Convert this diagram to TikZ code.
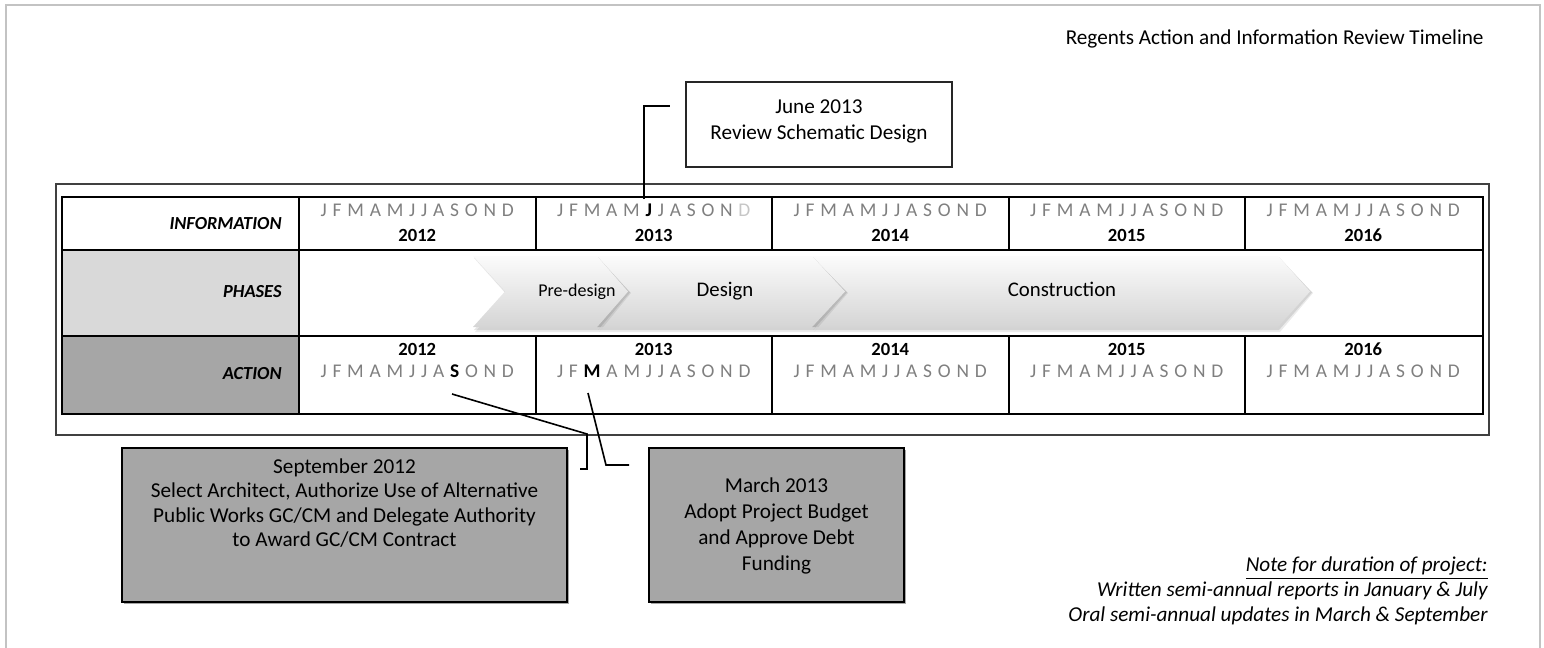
\documentclass[tikz,border=0pt]{standalone}
\usepackage{fontspec}
\setmainfont{Carlito}
\usetikzlibrary{shadows}
\definecolor{mgray}{HTML}{7F7F7F}
\definecolor{lgray}{HTML}{D9D9D9}
\definecolor{dgray}{HTML}{A6A6A6}
\definecolor{fgray}{HTML}{C3C3C3}
\definecolor{ogray}{HTML}{404040}
\newcommand\mon[1]{{\spaceskip=2.9pt\relax#1}}
\newcommand\hb[1]{\textcolor{black}{\bfseries #1}}
\newcommand\chevron[4]{%
  \fill[black,opacity=.08] (#1+1,258) -- (#3+1,258) -- (#4+3,293) -- (#3+2,332) -- (#1+2,332) -- (#2+2,295) -- cycle;
  \fill[black,opacity=.10] (#1+1,257) -- (#3+1,257) -- (#4+2,292.5) -- (#3+1,330) -- (#1+1,330) -- (#2+1,293) -- cycle;
  \shade[top color=gray!3, bottom color=gray!33] (#1,256) -- (#3,256) -- (#4,291.5) -- (#3,327) -- (#1,327) -- (#2,291.5) -- cycle;}
\begin{document}
\begin{tikzpicture}[x=0.5pt,y=-0.5pt,
  txt/.style={inner sep=0pt, font=\fontsize{10.6}{13}\selectfont},
  notetxt/.style={inner sep=0pt, anchor=mid east, font=\fontsize{10.6}{13}\selectfont\itshape},
  lab/.style={inner sep=0pt, anchor=mid east, font=\fontsize{9.2}{11}\selectfont\bfseries\itshape},
  yr/.style={inner sep=0pt, anchor=mid, font=\fontsize{9.3}{11}\selectfont\bfseries},
  mo/.style={inner sep=0pt, anchor=mid, text=mgray, font=\fontsize{9.7}{11}\selectfont},
  grid/.style={line width=1pt, black},
  conn/.style={line width=0.8pt, black},
  gbox/.style={draw=black, line width=1pt, fill=dgray, drop shadow={shadow xshift=0.8pt, shadow yshift=-0.8pt, opacity=.35, fill=black}},
  wbox/.style={draw=black!85, line width=0.9pt, fill=white},
  ph/.style={inner sep=0pt, anchor=mid, font=\fontsize{10.4}{12}\selectfont}]
\useasboundingbox (0,0) rectangle (1544,648);
% page frame
\draw[fgray, line width=1.2pt] (6,660) -- (6,5) -- (1540,5) -- (1540,660);
% title
\node[txt, anchor=mid east] (title) at (1484,40) {Regents Action and Information Review Timeline};
% June box
\node[wbox, minimum width=133pt, minimum height=42.5pt] (junebox) at (819,124.5) {};
\node[txt, align=center] (junetxt) at (819,121) {June 2013\\Review Schematic Design};
% outer table frame
\draw[line width=1pt, ogray] (56,184) rectangle (1489,435);
% cell fills
\fill[lgray] (62,250) rectangle (299,336);
\fill[dgray] (62,336) rectangle (299,414);
% chevrons
\chevron{812}{845}{1278}{1310}
\chevron{597}{628}{812}{845}
\chevron{473}{505}{597}{628}
\node[ph, font=\fontsize{9}{11}\selectfont] (pre) at (577,292) {Pre-design};
\node[ph] (des) at (725,292) {Design};
\node[ph] (con) at (1062,292) {Construction};
% grid
\draw[grid] (62,197) rectangle (1483,414);
\draw[grid] (62,250) -- (1483,250) (62,336) -- (1483,336) (299,197) -- (299,414);
\foreach \x in {535.5,772,1008.5,1245} \draw[grid] (\x,197) -- (\x,250) (\x,336) -- (\x,414);
% labels
\node[lab] (linfo) at (282,225) {INFORMATION};
\node[lab] (lphase) at (282,293) {PHASES};
\node[lab] (lact) at (282,375) {ACTION};
% years
\foreach \y [count=\i from 0] in {2012,2013,2014,2015,2016} {
  \node[yr] (iy\y) at (417.25+236.5*\i,237) {\y};
  \node[yr] (ay\y) at (417.25+236.5*\i,351) {\y};
}
% months, information row
\node[mo] (im2012) at (417.25,212) {\mon{J F M A M J J A S O N D}};
\node[mo] (im2013) at (653.75,212) {\mon{J F M A M \hb{J} J A S O N \textcolor{gray!45}{D}}};
\node[mo] (im2014) at (890.25,212) {\mon{J F M A M J J A S O N D}};
\node[mo] (im2015) at (1126.75,212) {\mon{J F M A M J J A S O N D}};
\node[mo] (im2016) at (1363.25,212) {\mon{J F M A M J J A S O N D}};
% months, action row
\node[mo] (am2012) at (417.25,373) {\mon{J F M A M J J A \hb{S} O N D}};
\node[mo] (am2013) at (653.75,373) {\mon{J F \hb{M} A M J J A S O N D}};
\node[mo] (am2014) at (890.25,373) {\mon{J F M A M J J A S O N D}};
\node[mo] (am2015) at (1126.75,373) {\mon{J F M A M J J A S O N D}};
\node[mo] (am2016) at (1363.25,373) {\mon{J F M A M J J A S O N D}};
% action boxes
\node[gbox, minimum width=222.5pt, minimum height=77pt] (septbox) at (344.5,525) {};
\node[txt, align=center, font=\fontsize{10.6}{12.2}\selectfont] (septtxt) at (344.5,503) {September 2012\\Select Architect, Authorize Use of Alternative\\Public Works GC/CM and Delegate Authority\\to Award GC/CM Contract};
\node[gbox, minimum width=127.5pt, minimum height=77pt] (marbox) at (776.5,525) {};
\node[txt, align=center] (martxt) at (776.5,526) {March 2013\\Adopt Project Budget\\and Approve Debt\\Funding};
% connectors
\coordinate (jtop) at (644,199);
\coordinate (jend) at (670,106);
\draw[conn] (jtop) |- (jend);
\coordinate (stop) at (452,394);
\coordinate (sk) at (587,434);
\coordinate (send) at (580,469);
\draw[conn] (stop) -- (sk) -- (sk |- send) -- (send);
\coordinate (mtop) at (588,393);
\coordinate (mk) at (606,465);
\coordinate (mend) at (629,465);
\draw[conn] (mtop) -- (mk) -- (mend);
% note
\node[notetxt] (note1) at (1488,567) {\underline{Note for duration of project:}};
\node[notetxt] (note2) at (1488,592) {Written semi-annual reports in January \& July};
\node[notetxt] (note3) at (1488,617) {Oral semi-annual updates in March \& September};
\end{tikzpicture}
\end{document}
